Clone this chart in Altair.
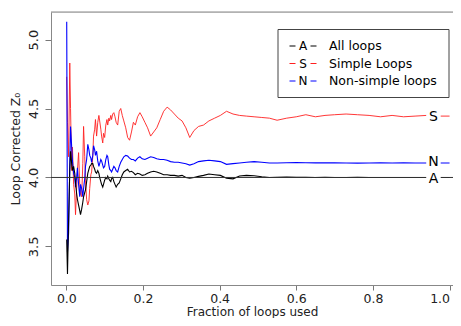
import altair as alt
import pandas as pd

# ---------------- data ----------------
frac = [
    0.001, 0.003, 0.006, 0.009, 0.011, 0.014, 0.016, 0.019, 0.022, 0.024,
    0.027, 0.029, 0.032, 0.035, 0.037, 0.040, 0.043, 0.045, 0.048, 0.050,
    0.053, 0.056, 0.059, 0.061, 0.064, 0.066, 0.069, 0.071, 0.074, 0.076,
    0.079, 0.082, 0.085, 0.087, 0.090, 0.092, 0.095, 0.097, 0.100, 0.103,
    0.106, 0.108, 0.111, 0.113, 0.116, 0.118, 0.121, 0.124, 0.127, 0.130,
    0.134, 0.138, 0.142, 0.146, 0.150, 0.155, 0.160, 0.165, 0.170, 0.175,
    0.180, 0.186, 0.192, 0.198, 0.205, 0.212, 0.220, 0.228, 0.236, 0.245,
    0.254, 0.263, 0.272, 0.282, 0.292, 0.302, 0.312, 0.322, 0.333, 0.345,
    0.358, 0.372, 0.387, 0.402, 0.418, 0.435, 0.452, 0.470, 0.490, 0.510,
    0.530, 0.550, 0.575, 0.600, 0.625, 0.650, 0.675, 0.700, 0.730, 0.760,
    0.790, 0.820, 0.850, 0.880, 0.910, 0.940, 0.970, 1.000,
]

simple_loops = [
    4.73, 4.40, 4.15, 4.83, 4.50, 4.05, 4.22, 3.95, 3.88, 3.73,
    3.93, 4.05, 4.18, 3.95, 3.88, 3.86, 4.10, 4.37, 4.15, 3.98,
    3.84, 3.80, 3.83, 3.92, 4.02, 4.04, 4.15, 4.30, 4.35, 4.42,
    4.30, 4.40, 4.45, 4.41, 4.35, 4.30, 4.25, 4.32, 4.29, 4.38,
    4.42, 4.38, 4.43, 4.41, 4.45, 4.42, 4.46, 4.47, 4.44, 4.40,
    4.38, 4.48, 4.50, 4.45, 4.41, 4.36, 4.29, 4.27, 4.33, 4.40,
    4.38, 4.44, 4.47, 4.44, 4.40, 4.36, 4.30, 4.33, 4.36, 4.42,
    4.48, 4.51, 4.49, 4.46, 4.43, 4.41, 4.36, 4.29, 4.34, 4.37,
    4.38, 4.41, 4.43, 4.45, 4.48, 4.46, 4.45, 4.445, 4.44, 4.435,
    4.43, 4.415, 4.43, 4.44, 4.455, 4.44, 4.45, 4.455, 4.46, 4.455,
    4.45, 4.44, 4.45, 4.44, 4.445, 4.45, 4.445, 4.445,
]

nonsimple_loops = [
    5.13, 3.46, 3.60, 4.10, 4.37, 4.22, 4.12, 4.03, 4.00, 3.93,
    4.00, 4.07, 3.95, 3.86, 3.95, 3.92, 3.86, 3.92, 3.99, 4.08,
    4.13, 4.24, 4.20, 4.16, 4.14, 4.11, 4.16, 4.23, 4.20, 4.16,
    4.19, 4.12, 4.08, 4.10, 4.13, 4.12, 4.09, 4.07, 4.08, 4.13,
    4.16, 4.15, 4.09, 4.06, 4.05, 4.04, 4.06, 4.08, 4.07, 4.05,
    4.04, 4.08, 4.11, 4.13, 4.15, 4.16, 4.155, 4.14, 4.13, 4.13,
    4.12, 4.14, 4.15, 4.135, 4.13, 4.14, 4.15, 4.145, 4.135, 4.13,
    4.13, 4.125, 4.115, 4.11, 4.11, 4.105, 4.10, 4.09, 4.10, 4.115,
    4.12, 4.125, 4.12, 4.115, 4.095, 4.10, 4.105, 4.11, 4.115, 4.11,
    4.105, 4.105, 4.107, 4.108, 4.107, 4.106, 4.107, 4.106, 4.105, 4.104,
    4.105, 4.106, 4.105, 4.106, 4.105, 4.105, 4.105, 4.105,
]

all_loops = [
    3.55, 3.30, 3.70, 4.05, 4.19, 4.10, 4.05, 4.08, 4.03, 3.96,
    3.88, 3.84, 3.80, 3.76, 3.73, 3.77, 3.82, 3.86, 3.89, 3.91,
    3.97, 4.03, 4.06, 4.08, 4.09, 4.10, 4.10, 4.08, 4.06, 4.04,
    4.03, 4.05, 4.03, 4.00, 3.97, 3.95, 3.93, 3.95, 3.98, 4.00,
    3.99, 4.01, 3.99, 3.98, 3.97, 3.99, 4.00, 3.97, 3.95, 3.93,
    3.95, 3.96, 3.99, 4.02, 4.04, 4.05, 4.06, 4.04, 4.045, 4.035,
    4.02, 4.03, 4.025, 4.015, 4.02, 4.03, 4.04, 4.045, 4.04, 4.03,
    4.02, 4.02, 4.015, 4.015, 4.01, 4.015, 4.00, 3.995, 4.00, 4.008,
    4.015, 4.025, 4.02, 4.015, 3.995, 3.99, 4.01, 4.015, 4.012, 4.005,
    4.00, 4.002, 4.003, 4.002, 4.001, 4.00, 4.001, 4.00, 4.00, 4.001,
    4.00, 4.00, 4.00, 4.00, 4.00, 4.00, 4.00, 4.00,
]

ref_level = [4.0]
x_ticks = [0.0, 0.2, 0.4, 0.6, 0.8, 1.0]
y_ticks = [3.5, 4.0, 4.5, 5.0]
series_letters = ["A", "S", "N"]
series_labels = ["All loops", "Simple Loops", "Non-simple loops"]
series_colors = ["black", "#ff2020", "#0000ff"]
label_frac = 0.958

# ---------------- chart ----------------
FONT = "DejaVu Sans"
TXT = "#222222"
FRAME = "#888888"
W, H = 402, 273
xscale = alt.Scale(domain=[-0.04, 1.009], nice=False, zero=False)
yscale = alt.Scale(domain=[3.22, 5.20], nice=False, zero=False)


def series_df(vals):
    return pd.DataFrame([{"frac": f, "z": v} for f, v in zip(frac, vals)])


x_enc = alt.X(
    "frac:Q", scale=xscale,
    axis=alt.Axis(values=x_ticks, format=".1f", title="Fraction of loops used",
                  grid=False, domain=True, domainColor=FRAME, domainWidth=1,
                  tickColor="#777777", tickSize=5,
                  labelFont=FONT, labelFontSize=12.5, labelColor=TXT, labelPadding=2,
                  labelAlign={"condition": {"test": "datum.value >= 1", "value": "right"},
                              "value": "center"},
                  labelBound=False,
                  titleFont=FONT, titleFontSize=12, titleFontWeight="normal",
                  titleColor=TXT, titlePadding=2),
)
y_enc = alt.Y(
    "z:Q", scale=yscale,
    axis=alt.Axis(values=y_ticks, format=".1f", title="Loop Corrected Z₀",
                  grid=False, domain=True, domainColor=FRAME, domainWidth=1,
                  tickColor="#777777", tickSize=6,
                  labelFont=FONT, labelFontSize=13, labelColor=TXT, labelAngle=270,
                  labelAlign="center", labelBaseline="alphabetic", labelPadding=8,
                  titleFont=FONT, titleFontSize=12.5, titleFontWeight="normal",
                  titleColor=TXT, titlePadding=5),
)
x_plain = alt.X("frac:Q", scale=xscale)
y_plain = alt.Y("z:Q", scale=yscale)

layers = []
# series lines (red first, then blue, then black on top)
layers.append(alt.Chart(series_df(simple_loops)).mark_line(
    color=series_colors[1], strokeWidth=0.9).encode(x=x_enc, y=y_enc))
layers.append(alt.Chart(series_df(nonsimple_loops)).mark_line(
    color=series_colors[2], strokeWidth=1.1).encode(x=x_plain, y=y_plain))
layers.append(alt.Chart(series_df(all_loops)).mark_line(
    color=series_colors[0], strokeWidth=1.1).encode(x=x_plain, y=y_plain))

# reference line
layers.append(alt.Chart(pd.DataFrame({"z": ref_level})).mark_rule(
    color="#333333", strokeWidth=1).encode(y=y_plain))

# top edge of the frame (right edge lies outside the picture)
one = pd.DataFrame({"k": [0]})
layers.append(alt.Chart(one).mark_rule(color=FRAME, strokeWidth=1).encode(
    x=alt.value(0), x2=alt.value(W), y=alt.value(0)))

# end-of-line letters with a gap in the line
last_vals = [all_loops[-1], simple_loops[-1], nonsimple_loops[-1]]
end_df = pd.DataFrame({"frac": [label_frac] * 3, "z": last_vals})
layers.append(alt.Chart(end_df).mark_square(
    filled=True, color="white", opacity=1, size=210).encode(x=x_plain, y=y_plain))
for letter, val, dy in zip(series_letters, last_vals, [1.5, 1.0, -0.5]):
    layers.append(alt.Chart(pd.DataFrame({"frac": [label_frac], "z": [val]})).mark_text(
        text=letter, font=FONT, fontSize=14, color="black", baseline="middle",
        align="center", dy=dy).encode(x=x_plain, y=y_plain))

# legend box
layers.append(alt.Chart(one).mark_rect(
    fill="white", stroke="#444444", strokeWidth=1).encode(
    x=alt.value(227), x2=alt.value(398), y=alt.value(17.5), y2=alt.value(85.5)))
for i, (letter, label, color) in enumerate(zip(series_letters, series_labels, series_colors)):
    ypx = 34 + 17.5 * i
    layers.append(alt.Chart(one).mark_rule(color=color, strokeWidth=1).encode(
        x=alt.value(238.5), x2=alt.value(244.5), y=alt.value(ypx)))
    layers.append(alt.Chart(one).mark_rule(color=color, strokeWidth=1).encode(
        x=alt.value(259.5), x2=alt.value(265.5), y=alt.value(ypx)))
    layers.append(alt.Chart(one).mark_text(
        text=letter, font=FONT, fontSize=12, color="black", align="center",
        baseline="middle").encode(x=alt.value(252), y=alt.value(ypx)))
    layers.append(alt.Chart(one).mark_text(
        text=label, font=FONT, fontSize=12.5, color="black", align="left",
        baseline="middle").encode(x=alt.value(278), y=alt.value(ypx)))

chart = alt.layer(*layers).properties(
    width=W, height=H,
    autosize=alt.AutoSizeParams(type="none"),
    padding={"left": 43, "top": 4, "right": 0, "bottom": 33},
).configure_view(strokeWidth=0).configure(background="white")

chart.save("out.html", embed_options={"renderer": "svg", "actions": False})
